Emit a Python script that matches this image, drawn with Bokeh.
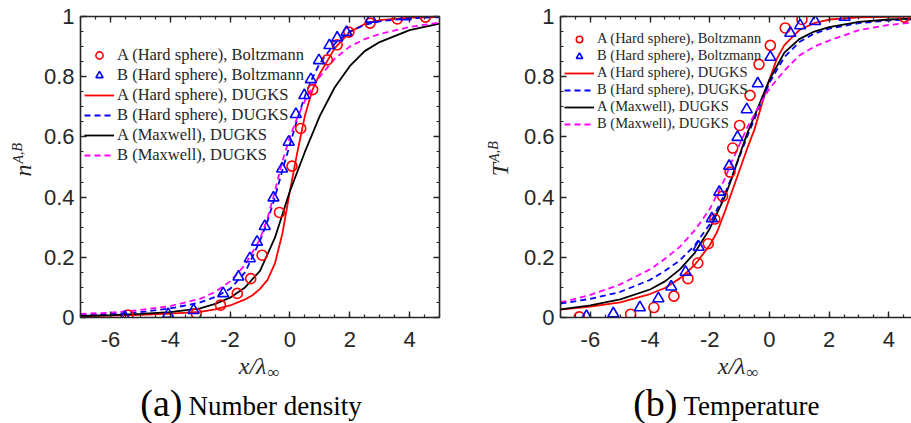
from bokeh.plotting import figure
from bokeh.models import (Range1d, FixedTicker, LinearAxis, Legend, LegendItem, Label,
                          CustomJSTickFormatter)
from bokeh.layouts import row, column
from bokeh.embed import file_html
from bokeh.resources import INLINE

# ---------------- data: panel (a) number density ----------------
nA_boltz_x = [-5.41, -3.13, -2.32, -1.76, -1.31, -0.93, -0.35, 0.07, 0.36, 0.76, 1.25, 1.58, 1.97, 2.68, 3.59, 4.53]
nA_boltz_y = [0.008, 0.013, 0.041, 0.080, 0.129, 0.207, 0.349, 0.503, 0.628, 0.757, 0.856, 0.906, 0.948, 0.978, 0.992, 0.998]
nB_boltz_x = [-5.52, -4.07, -3.22, -2.23, -1.72, -1.34, -1.10, -0.84, -0.55, -0.26, -0.04, 0.20, 0.48, 0.70, 0.97, 1.32, 1.58, 1.89, 2.71, 3.87]
nB_boltz_y = [0.002, 0.011, 0.024, 0.080, 0.135, 0.196, 0.251, 0.303, 0.398, 0.494, 0.583, 0.675, 0.738, 0.791, 0.854, 0.904, 0.929, 0.948, 0.992, 1.0]

nA_hs_x = [-7, -6, -5, -4, -3, -2.5, -2, -1.5, -1.25, -1, -0.75, -0.5, -0.25, 0, 0.25, 0.5, 0.75, 1, 1.5, 2, 2.5, 3, 4, 5]
nA_hs_y = [0.004, 0.006, 0.009, 0.013, 0.019, 0.027, 0.04, 0.06, 0.074, 0.095, 0.125, 0.18, 0.28, 0.42, 0.55, 0.67, 0.755, 0.81, 0.895, 0.948, 0.975, 0.988, 0.996, 0.998]
nB_hs_x = [-7, -6, -5, -4, -3, -2.5, -2, -1.5, -1, -0.75, -0.5, -0.25, 0, 0.25, 0.5, 0.75, 1, 1.5, 2, 2.5, 3, 4, 5]
nB_hs_y = [0.008, 0.012, 0.018, 0.03, 0.05, 0.068, 0.095, 0.15, 0.255, 0.32, 0.40, 0.49, 0.575, 0.66, 0.735, 0.795, 0.845, 0.91, 0.95, 0.972, 0.984, 0.994, 0.998]
nA_mx_x = [-7, -6, -5, -4, -3, -2.5, -2, -1.5, -1, -0.5, 0, 0.5, 1, 1.5, 2, 2.5, 3, 4, 5]
nA_mx_y = [0.005, 0.008, 0.012, 0.018, 0.03, 0.045, 0.066, 0.1, 0.155, 0.265, 0.42, 0.55, 0.67, 0.765, 0.835, 0.885, 0.915, 0.955, 0.976]
nB_mx_x = [-7, -6, -5, -4, -3, -2.5, -2, -1.5, -1, -0.75, -0.5, -0.25, 0, 0.25, 0.5, 0.75, 1, 1.5, 2, 2.5, 3, 4, 5]
nB_mx_y = [0.012, 0.016, 0.025, 0.038, 0.062, 0.085, 0.12, 0.175, 0.26, 0.33, 0.42, 0.52, 0.6, 0.665, 0.72, 0.765, 0.80, 0.86, 0.9, 0.925, 0.942, 0.965, 0.98]

# ---------------- data: panel (b) temperature ----------------
TA_boltz_x = [-6.37, -4.65, -3.87, -3.20, -2.73, -2.40, -2.05, -1.83, -1.57, -1.32, -1.23, -1.00, -0.65, -0.35, 0.03, 0.53, 1.09, 4.52]
TA_boltz_y = [0.002, 0.011, 0.033, 0.071, 0.129, 0.181, 0.245, 0.327, 0.403, 0.483, 0.563, 0.638, 0.738, 0.841, 0.904, 0.962, 0.990, 0.998]
TB_boltz_x = [-6.13, -5.23, -4.34, -3.72, -3.29, -2.81, -2.37, -1.93, -1.68, -1.35, -1.07, -0.76, -0.39, 0.03, 0.70, 1.03, 1.53, 2.52]
TB_boltz_y = [0.004, 0.013, 0.033, 0.063, 0.102, 0.151, 0.234, 0.329, 0.417, 0.503, 0.599, 0.691, 0.777, 0.865, 0.945, 0.970, 0.984, 0.998]

TA_hs_x = [-7, -6, -5, -4, -3.5, -3, -2.5, -2, -1.75, -1.5, -1.25, -1, -0.75, -0.5, -0.25, 0, 0.25, 0.5, 1, 1.5, 2, 3, 4, 5]
TA_hs_y = [0.026, 0.036, 0.05, 0.078, 0.098, 0.13, 0.175, 0.24, 0.285, 0.35, 0.42, 0.49, 0.56, 0.625, 0.71, 0.79, 0.86, 0.905, 0.955, 0.978, 0.99, 0.997, 0.999, 1.0]
TB_hs_x = [-7, -6, -5, -4, -3.5, -3, -2.5, -2, -1.5, -1.25, -1, -0.75, -0.5, -0.25, 0, 0.5, 1, 1.5, 2, 3, 4, 5]
TB_hs_y = [0.046, 0.062, 0.085, 0.125, 0.155, 0.19, 0.24, 0.31, 0.41, 0.47, 0.535, 0.60, 0.66, 0.72, 0.78, 0.865, 0.915, 0.943, 0.96, 0.978, 0.987, 0.992]
TA_mx_x = [-7, -6, -5, -4, -3.5, -3, -2.5, -2, -1.5, -1.25, -1, -0.75, -0.5, -0.25, 0, 0.5, 1, 1.5, 2, 3, 4, 5]
TA_mx_y = [0.027, 0.04, 0.06, 0.093, 0.12, 0.16, 0.215, 0.295, 0.40, 0.465, 0.54, 0.61, 0.67, 0.73, 0.79, 0.88, 0.925, 0.95, 0.965, 0.982, 0.99, 0.994]
TB_mx_x = [-7, -6, -5, -4, -3.5, -3, -2.5, -2, -1.5, -1.25, -1, -0.75, -0.5, -0.25, 0, 0.5, 1, 1.5, 2, 3, 4, 5]
TB_mx_y = [0.05, 0.075, 0.11, 0.16, 0.195, 0.235, 0.29, 0.36, 0.46, 0.52, 0.575, 0.63, 0.675, 0.72, 0.76, 0.82, 0.87, 0.9, 0.92, 0.955, 0.972, 0.982]

legend_labels = ["A (Hard sphere), Boltzmann", "B (Hard sphere), Boltzmann",
                 "A (Hard sphere), DUGKS", "B (Hard sphere), DUGKS",
                 "A (Maxwell), DUGKS", "B (Maxwell), DUGKS"]

x_major = [-6, -4, -2, 0, 2, 4]
x_minor = [-7, -6.5, -6, -5.5, -5, -4.5, -4, -3.5, -3, -2.5, -2, -1.5, -1, -0.5, 0,
           0.5, 1, 1.5, 2, 2.5, 3, 3.5, 4, 4.5, 5]
y_major = [0, 0.2, 0.4, 0.6, 0.8, 1.0]
y_minor = [0.05, 0.1, 0.15, 0.2, 0.25, 0.3, 0.35, 0.4, 0.45, 0.5, 0.55, 0.6, 0.65,
           0.7, 0.75, 0.8, 0.85, 0.9, 0.95]

AX = "#262626"
SERIF = "Liberation Serif"
SANS = "Liberation Sans"
TOP_H = 352
CAP_H = 71


def style_axis(ax, labels=True, standoff=8):
    ax.axis_line_color = AX
    ax.axis_line_width = 1.6
    ax.major_tick_line_color = AX
    ax.minor_tick_line_color = AX
    ax.major_tick_line_width = 1.4
    ax.minor_tick_line_width = 1.2
    ax.major_tick_in = 6
    ax.major_tick_out = 0
    ax.minor_tick_in = 3
    ax.minor_tick_out = 0
    if labels:
        ax.major_label_text_font = SANS
        ax.major_label_text_font_size = "22px"
        ax.major_label_text_color = AX
        ax.major_label_standoff = standoff
    else:
        ax.major_label_text_font_size = "0px"
        ax.major_label_standoff = 0
        ax.formatter = CustomJSTickFormatter(code="return '';")


def make_panel(xend, width, min_left, min_right, right_axis):
    p = figure(width=width, height=TOP_H, x_range=Range1d(-7, xend), y_range=Range1d(0, 1),
               output_backend="svg", toolbar_location=None, tools="",
               x_axis_type=None, y_axis_type=None,
               min_border_left=min_left, min_border_right=min_right,
               min_border_top=16, min_border_bottom=35)
    p.outline_line_color = None
    xt = FixedTicker(ticks=x_major, minor_ticks=x_minor)
    yt = FixedTicker(ticks=y_major, minor_ticks=y_minor)
    bx = LinearAxis(ticker=xt, formatter=CustomJSTickFormatter(code="return tick.toString();"))
    style_axis(bx, True, 14)
    p.add_layout(bx, "below")
    ly = LinearAxis(ticker=yt, formatter=CustomJSTickFormatter(
        code="return (Math.round(tick*10)/10).toString();"))
    style_axis(ly, True, 6)
    p.add_layout(ly, "left")
    tx = LinearAxis(ticker=xt)
    style_axis(tx, False)
    p.add_layout(tx, "above")
    if right_axis:
        ry = LinearAxis(ticker=yt)
        style_axis(ry, False)
        p.add_layout(ry, "right")
    return p


def draw_series(p, data, font_size, row_h, loc):
    (ax_, ay_), (bx_, by_), (l1x, l1y), (l2x, l2y), (l3x, l3y), (l4x, l4y) = data
    r3 = p.line(l1x, l1y, line_color="#ff0000", line_width=1.8)
    r4 = p.line(l2x, l2y, line_color="#0000ff", line_width=1.8, line_dash="6 4")
    r5 = p.line(l3x, l3y, line_color="#000000", line_width=1.8)
    r6 = p.line(l4x, l4y, line_color="#ff00ff", line_width=1.8, line_dash="6 4")
    r1 = p.scatter(ax_, ay_, marker="circle", size=10, fill_color=None,
                   line_color="#ff0000", line_width=1.6)
    r2 = p.scatter(bx_, by_, marker="triangle", size=11, fill_color=None,
                   line_color="#0000ff", line_width=1.6)
    rends = [r1, r2, r3, r4, r5, r6]
    items = [LegendItem(label=lab, renderers=[r]) for lab, r in zip(legend_labels, rends)]
    leg = Legend(items=items, location=loc, padding=0, spacing=0, margin=0,
                 glyph_width=30, glyph_height=row_h, label_height=row_h,
                 label_standoff=3, label_text_font=SERIF,
                 label_text_font_size=font_size, label_text_color=AX,
                 border_line_color=None, background_fill_alpha=0)
    p.add_layout(leg)


def text_fig(w, h):
    f = figure(width=w, height=h, x_range=Range1d(0, w), y_range=Range1d(0, h),
               output_backend="svg", toolbar_location=None, tools="",
               x_axis_type=None, y_axis_type=None, min_border=0)
    f.outline_line_color = None
    return f


def ylabel_fig(w, sym, sym_xy, sup_xy):
    f = text_fig(w, TOP_H)
    f.add_layout(Label(x=sym_xy[0], y=sym_xy[1], text=sym, angle=1.5708,
                       text_font=SERIF, text_font_style="italic", text_font_size="24px",
                       text_color=AX, text_align="center", text_baseline="alphabetic"))
    f.add_layout(Label(x=sup_xy[0], y=sup_xy[1], text="A,B", angle=1.5708,
                       text_font=SERIF, text_font_style="italic", text_font_size="14px",
                       text_color=AX, text_align="center", text_baseline="alphabetic"))
    return f


def caption_fig(w, xl_x, cap_x, letter, caption):
    f = text_fig(w, CAP_H)
    f.add_layout(Label(x=xl_x, y=57.5, text="x/λ", text_font=SERIF, text_font_style="italic",
                       text_font_size="24px", text_color=AX, text_align="right",
                       text_baseline="alphabetic"))
    f.add_layout(Label(x=xl_x + 1, y=51.5, text="∞", text_font=SERIF, text_font_size="17px",
                       text_color=AX, text_align="left", text_baseline="alphabetic"))
    f.add_layout(Label(x=cap_x, y=21, text=letter, text_font=SERIF, text_font_size="38px",
                       text_color="black", text_align="right", text_baseline="alphabetic"))
    f.add_layout(Label(x=cap_x + 6, y=18, text=caption, text_font=SERIF,
                       text_font_size="27px", text_color="black", text_align="left",
                       text_baseline="alphabetic"))
    return f


# panel (a)
ya = ylabel_fig(40, "n", (22.5, 172), (17.5, 192))
pa = make_panel(5, 409, 37, 10, True)
draw_series(pa, [
    (nA_boltz_x, nA_boltz_y), (nB_boltz_x, nB_boltz_y),
    (nA_hs_x, nA_hs_y), (nB_hs_x, nB_hs_y), (nA_mx_x, nA_mx_y), (nB_mx_x, nB_mx_y)],
    "16.5px", 18, (4, 152))

# panel (b)
yb = ylabel_fig(71, "T", (50, 173), (44.5, 194))
pb = make_panel(4.76, 391, 37, 0, False)
draw_series(pb, [
    (TA_boltz_x, TA_boltz_y), (TB_boltz_x, TB_boltz_y),
    (TA_hs_x, TA_hs_y), (TB_hs_x, TB_hs_y), (TA_mx_x, TA_mx_y), (TB_mx_x, TB_mx_y)],
    "14.5px", 16, (4, 185))

ca = caption_fig(449, 266, 182, "(a)", "Number density")
cb = caption_fig(462, 296, 228, "(b)", "Temperature")

layout = column(row(ya, pa, yb, pb), row(ca, cb))
open("out.html", "w").write(file_html(layout, INLINE))
